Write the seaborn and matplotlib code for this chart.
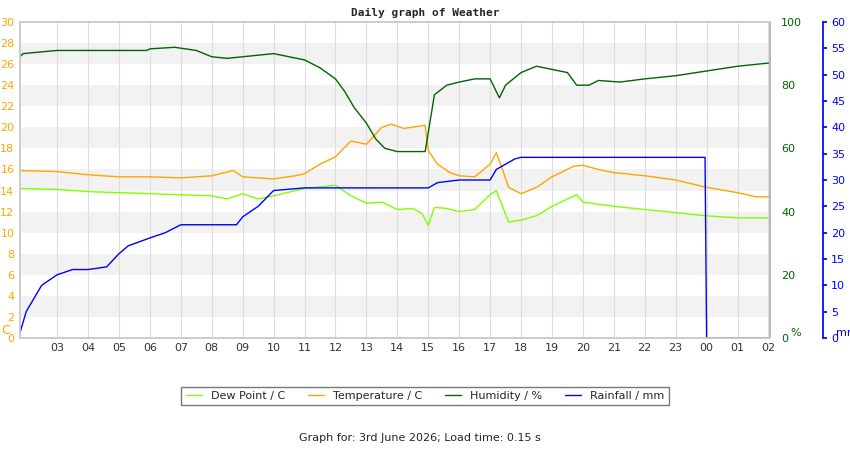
import matplotlib
matplotlib.use("Agg")
import matplotlib.pyplot as plt
import seaborn as sns
import pandas as pd

sns.set_theme(style="white")
plt.rcParams['font.family'] = ['DejaVu Sans']

temp_x = [1.8,3,4,5,6,7,8,8.7,9,10,10.7,11,11.5,12,12.5,13,13.5,13.8,14.2,14.7,14.9,15.0,15.3,15.7,16,16.5,17,17.2,17.4,17.6,18,18.5,19,19.7,20,20.5,21,22,23,24,25,25.6,26]
temp_y = [15.9,15.8,15.5,15.3,15.3,15.2,15.4,15.9,15.3,15.1,15.4,15.6,16.5,17.2,18.7,18.4,20.0,20.3,19.9,20.1,20.2,17.8,16.5,15.7,15.4,15.3,16.5,17.6,16.0,14.3,13.7,14.3,15.3,16.3,16.4,16.0,15.7,15.4,15.0,14.3,13.8,13.4,13.4]
dew_x = [1.8,3,4,5,6,7,8,8.5,9,9.5,10,11,12,12.5,13,13.5,14,14.5,14.8,15,15.2,15.6,16,16.5,17,17.2,17.4,17.6,18,18.5,19,19.5,19.8,20,21,22,23,24,25,26]
dew_y = [14.2,14.1,13.9,13.8,13.7,13.6,13.5,13.2,13.7,13.2,13.5,14.2,14.5,13.5,12.8,12.9,12.2,12.3,11.8,10.7,12.4,12.3,12.0,12.2,13.6,14.0,12.5,11.0,11.2,11.6,12.5,13.2,13.6,12.9,12.5,12.2,11.9,11.6,11.4,11.4]
hum_x = [1.8,1.9,3,5.9,6,6.8,7.5,8,8.5,9,10,10.5,11,11.5,12,12.3,12.6,13,13.3,13.6,14,14.5,14.9,15,15.2,15.6,16,16.5,17,17.3,17.5,18,18.5,19,19.5,19.8,20.2,20.5,21.2,22,23,24,25,26]
hum_y = [89,90,91,91,91.5,92,91,89,88.5,89,90,89,88,85.5,82,78,73,68,63,60,59,59,59,65,77,80,81,82,82,76,80,84,86,85,84,80,80,81.5,81,82,83,84.5,86,87]
rain_x = [1.8,2,2.5,3,3.5,4,4.6,5,5.3,6,6.5,7,8,8.8,9,9.5,10,11,15,15.3,16,17,17.2,17.8,18,23.95,24.0,26]
rain_y = [1,5,10,12,13,13,13.5,16,17.5,19,20,21.5,21.5,21.5,23,25,28,28.5,28.5,29.5,30,30,32,34,34.3,34.3,0,0]
hour_ticks = list(range(3, 27))
hour_labels = [f"{h % 24:02d}" for h in hour_ticks]

fig = plt.figure(figsize=(8.5, 4.5), dpi=100)
ax = fig.add_axes([20/850, 1-338/450, 750/850, 316/450])
for lo in range(2, 30, 4):
    ax.axhspan(lo, lo+2, color='#f2f2f2', zorder=0, lw=0)
for h in hour_ticks:
    ax.axvline(h, color='#dddddd', lw=0.8, zorder=0.5)

sns.lineplot(x=dew_x, y=dew_y, ax=ax, color='#80ff00', lw=1, label='Dew Point / C', legend=False)
sns.lineplot(x=temp_x, y=temp_y, ax=ax, color='#ffa500', lw=1, label='Temperature / C', legend=False)
ax.set_xlim(1.8, 26.05)
ax.set_ylim(0, 30)
ax.set_yticks(range(0, 31, 2))
ax.tick_params(axis='y', colors='#ffa500', labelsize=8, length=0, pad=4)
ax.set_xticks(hour_ticks)
ax.set_xticklabels(hour_labels, fontsize=8, color='#333333')
ax.tick_params(axis='x', length=0)

ax2 = ax.twinx()
sns.lineplot(x=hum_x, y=hum_y, ax=ax2, color='#006400', lw=1, label='Humidity / %', legend=False)
ax2.set_ylim(0, 100)
ax2.set_yticks(range(0, 101, 20))
ax2.tick_params(axis='y', colors='#006400', labelsize=8, length=0, pad=8)
ax2.set_ylabel('')

ax3 = ax.twinx()
ax3.spines['right'].set_position(('outward', 38))
sns.lineplot(x=rain_x, y=rain_y, ax=ax3, color='#0000ff', lw=1, label='Rainfall / mm', legend=False)
ax3.set_ylim(0, 60)
ax3.set_yticks(range(0, 61, 5))
ax3.tick_params(axis='y', colors='#0000ff', labelsize=8, length=3, pad=3)
ax3.spines['right'].set_color('#0000ff')
for a in (ax, ax2, ax3):
    for s in ('top', 'left', 'bottom'):
        a.spines[s].set_color('#cccccc')
ax2.spines['right'].set_color('#cccccc')
ax.set_xlabel(''); ax.set_ylabel(''); ax3.set_ylabel('')

fig.text(1/850, 1-331/450, 'C', color='#ffa500', fontsize=9, va='center')
fig.text(790/850, 1-333/450, '%', color='#006400', fontsize=8, va='center')
fig.text(836/850, 1-333/450, 'mm', color='#0000ff', fontsize=8, va='center')
fig.text(425/850, 1-13/450, 'Daily graph of Weather', ha='center', va='center',
         fontsize=8, family='DejaVu Sans Mono', fontweight='bold')
fig.text(420/850, 1-438/450, 'Graph for: 3rd June 2026; Load time: 0.15 s', ha='center', va='center', fontsize=8)

handles = []
for a in (ax, ax2, ax3):
    h, l = a.get_legend_handles_labels()
    handles += list(zip(h, l))
leg = fig.legend([h for h, _ in handles], [l for _, l in handles], loc='center',
                 bbox_to_anchor=(425/850, 1-396/450), ncol=4, fontsize=8, frameon=True,
                 fancybox=False, edgecolor='#555555', handlelength=1.5, columnspacing=2)
fig.savefig('out.png', dpi=100)
